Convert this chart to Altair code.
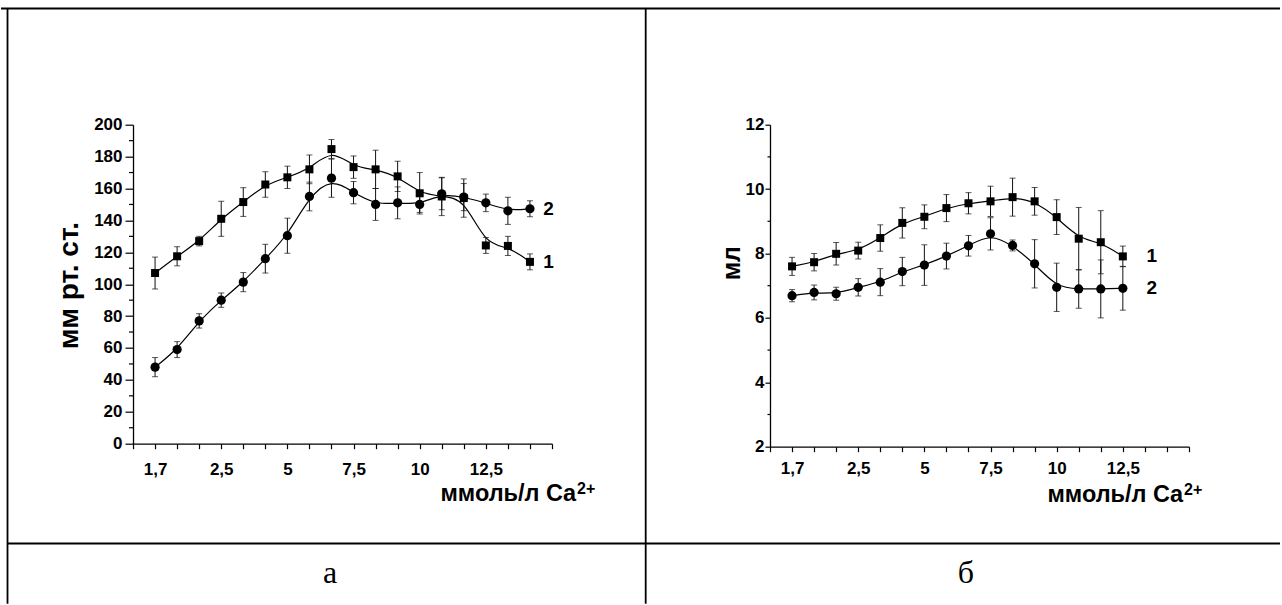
import altair as alt
import pandas as pd

FONT = "Liberation Sans"
SERIF = "Liberation Serif"

# Evenly spaced steps along the calcium axis, with labels on every third step
x_steps = [0, 1, 2, 3, 4, 5, 6, 7, 8, 9, 10, 11, 12, 13, 14, 15, 16, 17, 18, 19]
x_step_labels = ["", "1,7", "", "", "2,5", "", "", "5", "", "", "7,5", "", "", "10", "", "", "12,5", "", "", ""]

# Panel "а": pressure, mm Hg
a_x = [1, 2, 3, 4, 5, 6, 7, 8, 9, 10, 11, 12, 13, 14, 15, 16, 17, 18]
a_s1 = [107, 117.5, 127, 141, 151.5, 162.5, 167, 172, 184.7, 173.4, 172, 167.6, 157, 155, 154, 124.3, 124, 114]
a_s1_err = [10, 6, 3, 11, 9, 8, 7, 9, 6, 7, 12, 9.5, 13, 12, 12, 5, 6, 5]
a_s2 = [48, 59, 77, 90, 101.3, 116, 130.4, 155, 166.5, 157.4, 150, 151, 150, 156.7, 154.6, 151, 146, 147.3]
a_s2_err = [6, 5, 4.5, 4.5, 6, 9, 11, 9, 12, 7, 10, 10, 5, 10, 8.5, 5.5, 8.5, 5]
a_major = [0, 20, 40, 60, 80, 100, 120, 140, 160, 180, 200]
a_minor = [10, 30, 50, 70, 90, 110, 130, 150, 170, 190]

# Panel "б": volume, ml
b_x = [1, 2, 3, 4, 5, 6, 7, 8, 9, 10, 11, 12, 13, 14, 15, 16]
b_s1 = [7.6, 7.73, 7.99, 8.09, 8.48, 8.95, 9.14, 9.41, 9.56, 9.62, 9.75, 9.62, 9.13, 8.46, 8.35, 7.91]
b_s1_err = [0.28, 0.27, 0.35, 0.26, 0.41, 0.47, 0.37, 0.42, 0.33, 0.47, 0.59, 0.43, 0.54, 0.97, 0.98, 0.32]
b_s2 = [6.69, 6.79, 6.75, 6.95, 7.11, 7.44, 7.64, 7.92, 8.24, 8.61, 8.25, 7.68, 6.95, 6.9, 6.9, 6.92]
b_s2_err = [0.19, 0.23, 0.2, 0.27, 0.42, 0.44, 0.63, 0.4, 0.32, 0.5, 0.17, 0.75, 0.75, 0.6, 0.9, 0.68]
b_major = [2, 4, 6, 8, 10, 12]
b_minor = [3, 5, 7, 9, 11]

series_names = ["1", "2"]

label_expr = "[" + ",".join("'" + s + "'" for s in x_step_labels) + "][datum.value]"


def one(text):
    return pd.DataFrame({"t": [text]})


def panel(xs, s1, e1, s2, e2, ydom, major, minor, w, h, tick_y, pad_x, pad_y,
          ytitle, ytitle_size, ytitle_pos, xtitle_pos, sup_pos, letter, letter_pos, label_dx, frame):
    rows = []
    for name, vals, errs in ((series_names[0], s1, e1), (series_names[1], s2, e2)):
        for x, v, e in zip(xs, vals, errs):
            rows.append({"series": name, "x": x, "y": v, "lo": v - e, "hi": v + e})
    df = pd.DataFrame(rows)
    base = alt.Chart(df)

    xs_enc = alt.X(
        "x:Q",
        scale=alt.Scale(domain=[0, 19], nice=False, zero=False),
        axis=alt.Axis(values=x_steps, tickCount=50, labelExpr=label_expr, title=None, grid=False,
                      tickSize=5, labelPadding=pad_x, labelBaseline="alphabetic",
                      labelFlush=False, labelOverlap=False, labelBound=False),
    )
    ys_enc = alt.Y(
        "y:Q",
        scale=alt.Scale(domain=ydom, nice=False, zero=False),
        axis=alt.Axis(values=major, tickCount=50, format="d", title=None, grid=False, tickSize=tick_y,
                      labelPadding=pad_y, labelOverlap=False, labelBound=False),
    )
    xq = alt.X("x:Q", title=None)

    line = base.mark_line(interpolate="basis", color="black", strokeWidth=1.2).encode(
        x=xs_enc, y=ys_enc, detail="series:N"
    )
    bars = base.mark_rule(color="#111", strokeWidth=1).encode(
        x=xq, y=alt.Y("lo:Q", title=None), y2="hi:Q"
    )
    cap_hi = base.mark_tick(orient="horizontal", size=6, thickness=1, color="#111").encode(
        x=xq, y=alt.Y("hi:Q", title=None)
    )
    cap_lo = base.mark_tick(orient="horizontal", size=6, thickness=1, color="#111").encode(
        x=xq, y=alt.Y("lo:Q", title=None)
    )
    pts = base.mark_point(filled=True, opacity=1, color="black").encode(
        x=xq,
        y=alt.Y("y:Q", title=None),
        shape=alt.Shape("series:N", scale=alt.Scale(domain=series_names, range=["square", "circle"]), legend=None),
        size=alt.Size("series:N", scale=alt.Scale(domain=series_names, range=[64, 85]), legend=None),
    )

    minor_ticks = alt.Chart(pd.DataFrame({"v": minor})).mark_rule(color="black", strokeWidth=1.2).encode(
        y=alt.Y("v:Q", title=None), x=alt.value(-tick_y / 2), x2=alt.value(0)
    )

    ends = pd.DataFrame({"x": [xs[-1], xs[-1]], "y": [s1[-1], s2[-1]], "t": series_names})
    end_labels = alt.Chart(ends).mark_text(
        font=FONT, fontWeight="bold", fontSize=19, dx=label_dx, align="center", baseline="middle", color="black"
    ).encode(x=xq, y=alt.Y("y:Q", title=None), text="t:N")

    ytitle_mark = alt.Chart(one(ytitle)).mark_text(
        font=FONT, fontWeight="bold", fontSize=ytitle_size, angle=270, align="center", baseline="middle",
        color="black"
    ).encode(text="t:N", x=alt.value(ytitle_pos[0]), y=alt.value(ytitle_pos[1]))
    xtitle_mark = alt.Chart(one("ммоль/л Ca")).mark_text(
        font=FONT, fontWeight="bold", fontSize=23.5, align="right", baseline="alphabetic", color="black"
    ).encode(text="t:N", x=alt.value(xtitle_pos[0]), y=alt.value(xtitle_pos[1]))
    sup_mark = alt.Chart(one("2+")).mark_text(
        font=FONT, fontWeight="bold", fontSize=16, align="left", baseline="alphabetic", color="black"
    ).encode(text="t:N", x=alt.value(sup_pos[0]), y=alt.value(sup_pos[1]))
    letter_mark = alt.Chart(one(letter)).mark_text(
        font=SERIF, fontSize=32, align="center", baseline="alphabetic", color="black"
    ).encode(text="t:N", x=alt.value(letter_pos[0]), y=alt.value(letter_pos[1]))

    layers = [line, bars, cap_hi, cap_lo, pts, minor_ticks, end_labels,
              ytitle_mark, xtitle_mark, sup_mark, letter_mark]

    # table frame lines, given in pixels relative to the plot area
    for (x1, y1, x2, y2, sw) in frame:
        layers.append(
            alt.Chart(one("")).mark_rule(color="black", strokeWidth=sw).encode(
                x=alt.value(x1), y=alt.value(y1), x2=alt.value(x2), y2=alt.value(y2)
            )
        )
    return alt.layer(*layers).properties(width=w, height=h)


frame_lines = [
    (-132, -116.3, 1147, -116.3, 2),      # top edge
    (-125.5, -116.3, -125.5, 479, 1.8),   # left edge
    (512.7, -116.3, 512.7, 479, 1.8),     # middle divider
    (-125.5, 418.7, 1147, 418.7, 2),      # caption row divider
]

left = panel(a_x, a_s1, a_s1_err, a_s2, a_s2_err, [0, 200], a_major, a_minor, 419, 319,
             8, 26, 3, "мм рт. ст.", 28, (-63, 161), (443, 376), (444, 369), "а", (197, 458), 18.5,
             frame_lines)
right = panel(b_x, b_s1, b_s1_err, b_s2, b_s2_err, [2, 12], b_major, b_minor, 419, 322,
              5, 22, 1, "мл", 25, (-38, 138.5), (413, 377.5), (414, 370), "б", (196, 458), 29,
              [])

chart = alt.hconcat(left, right, spacing=218, bounds="flush").properties(
    padding={"left": 0, "top": 6.7, "right": 0, "bottom": 0}
).configure_view(stroke=None).configure_axis(
    domainColor="black", domainWidth=1.3, tickColor="black", tickWidth=1.2,
    labelFont=FONT, labelFontWeight="bold", labelFontSize=17, labelColor="black",
    labelOverlap=False,
).configure_axisY(labelBaseline="middle", labelAlign="right")

chart.save("out.html", embed_options={"renderer": "svg", "actions": False})
